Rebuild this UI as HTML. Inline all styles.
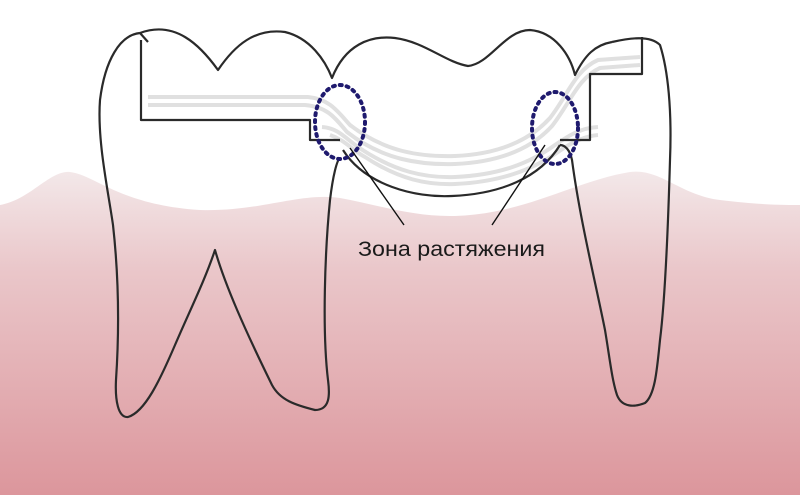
<!DOCTYPE html>
<html><head><meta charset="utf-8"><style>
html,body{margin:0;padding:0;background:#fff;}
svg{display:block;}
</style></head><body>
<svg width="800" height="495" viewBox="0 0 800 495" xmlns="http://www.w3.org/2000/svg">
<defs>
<linearGradient id="g" x1="0" y1="0" x2="0" y2="1">
<stop offset="0" stop-color="#f3e8e9"/>
<stop offset="0.3" stop-color="#eac7ca"/>
<stop offset="1" stop-color="#dc969c"/>
</linearGradient>
</defs>
<rect width="800" height="495" fill="#fff"/>
<path d="M0,205 C30,200 50,170 70,172 C95,175 120,205 200,210 C260,212 300,192 340,198 C380,205 420,220 470,215 C530,210 580,180 630,172 C660,168 680,195 720,200 C760,205 785,205 800,205 L800,495 L0,495 Z" fill="url(#g)"/>
<path d="M345,150 C370,185 420,197 455,195 C500,193 540,175 560,148 Z" fill="#fff"/>
<!-- gray framework bands -->
<g fill="none" stroke="#e0e0e0" stroke-width="4">
<path d="M148,97 L308,97 C330,99 338,112 350,125 C385,152 420,157 455,156 C500,154 530,140 550,118 C568,95 575,70 598,60 L640,57"/>
<path d="M148,105 L305,105 C328,107 335,118 347,132 C383,160 420,165 455,164 C500,162 532,148 552,126 C570,103 578,78 600,68 L640,65"/>
<path d="M322,127 C338,128 345,138 358,147 C395,172 425,178 455,177 C500,175 530,163 555,145 C568,136 580,128 598,127"/>
<path d="M330,135 C345,140 352,150 365,157 C400,180 428,185 455,184 C500,182 532,170 558,152 C572,142 585,136 598,135"/>
</g>
<g fill="none" stroke="#2a2a2a" stroke-width="2.2" stroke-linejoin="round">
<path d="M140,33 C120,35 105,60 100,100 C97,140 108,190 113,225 C118,270 120,320 116,380 C115,400 118,418 128,417 C145,412 160,380 175,345 C190,310 205,280 215,250 C225,285 245,330 272,385 C280,400 295,405 315,410 C330,410 330,395 328,380 C322,330 325,250 330,200 C333,175 337,160 340,158"/>
<path d="M140,33 C175,20 200,45 218,70 C235,45 255,28 285,32 C310,38 325,60 332,78 C345,45 370,35 395,38 C425,42 445,62 468,66 C490,64 505,30 530,30 C555,32 570,55 575,75 C585,55 595,45 612,42"/>
<path d="M140,33 L148,42"/>
<path d="M612,42 C630,38 650,35 660,45 C668,70 672,110 670,160 C668,230 665,300 660,340 C657,370 655,395 645,403 C635,407 622,408 617,395 C612,380 610,360 605,330 C595,280 580,220 572,160 C570,150 565,145 560,145"/>
<path d="M343,150 C365,185 415,198 452,196 C500,194 540,178 560,145"/>
<path d="M141,40 L141,120 L310,120 L310,140 L340,140"/>
<path d="M642,37 L642,74 L590,74 L590,140 L560,140"/>
</g>
<g fill="none" stroke="#1f1a6e" stroke-width="4" stroke-dasharray="2,5" stroke-linecap="round">
<ellipse cx="340" cy="122" rx="25" ry="37"/>
<ellipse cx="555" cy="128" rx="23" ry="36"/>
</g>
<g stroke="#111" stroke-width="1.4">
<line x1="350" y1="148" x2="404" y2="225"/>
<line x1="545" y1="145" x2="492" y2="225"/>
</g>
<text x="358" y="256" textLength="187" lengthAdjust="spacingAndGlyphs" font-family="'Liberation Sans', sans-serif" font-size="21" fill="#1a1a1a">Зона растяжения</text>
</svg>
</body></html>
